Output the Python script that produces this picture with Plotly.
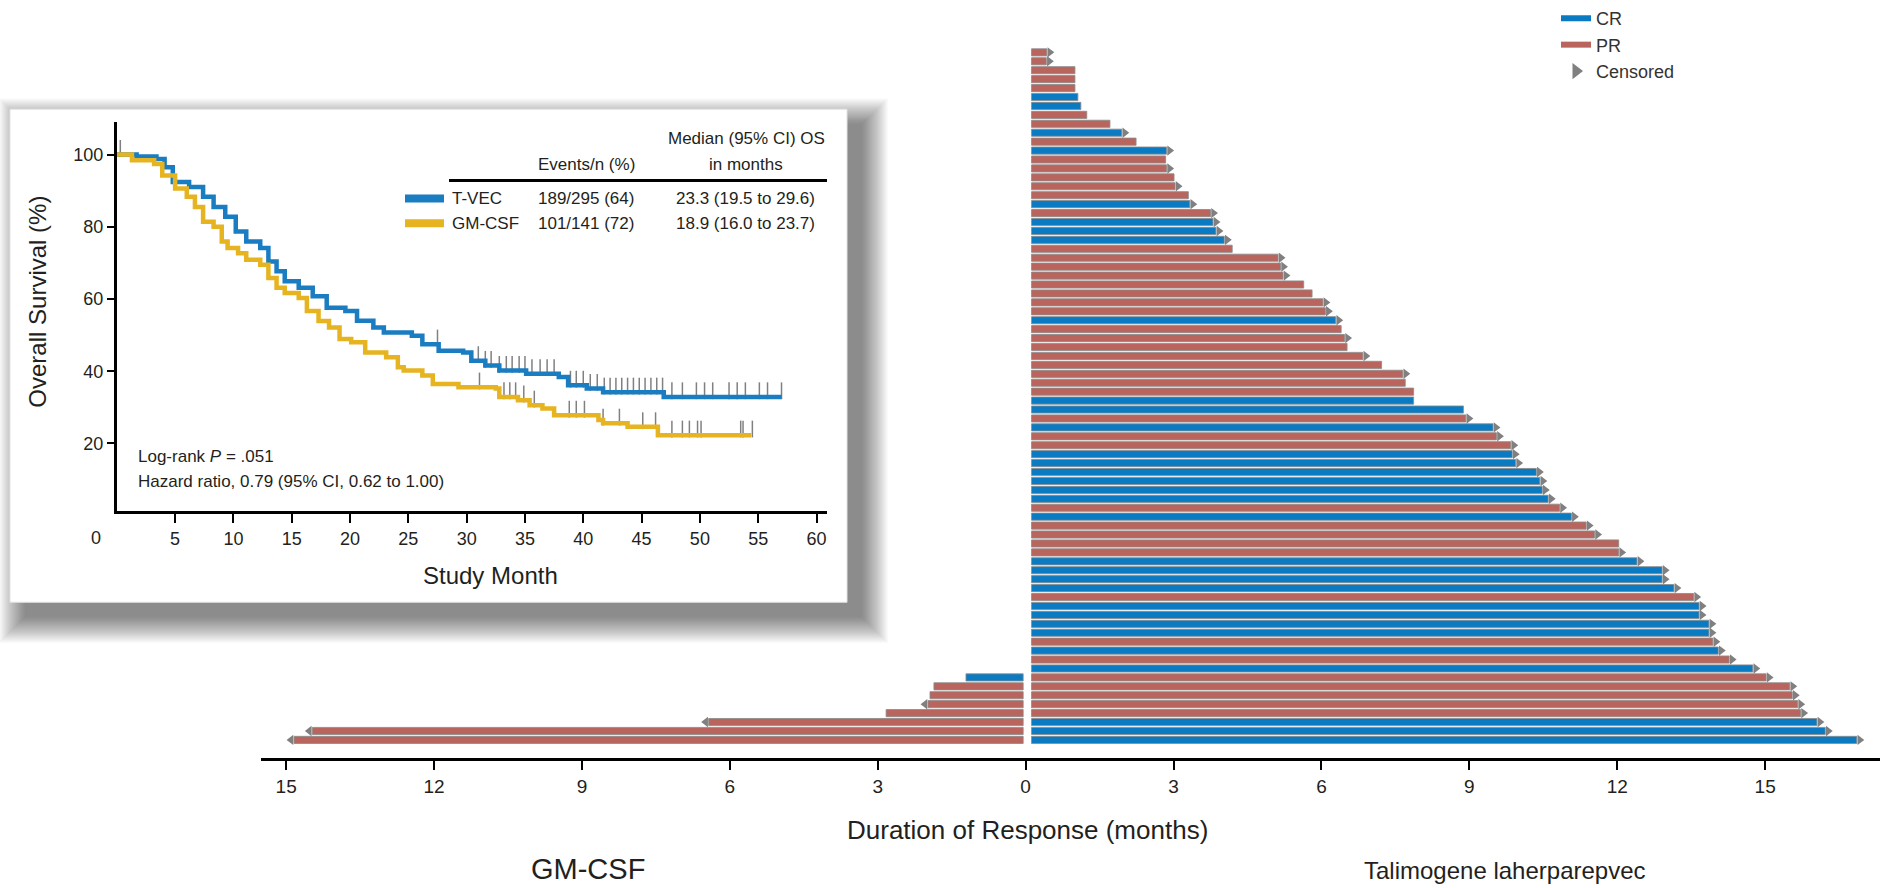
import numpy as np
import plotly.graph_objects as go

W, H = 1880, 888

# ---------------- Duration of response (months), rows top -> bottom ----------------
tvec_rows = list(range(1, 79))
tvec_response = ["PR", "PR", "PR", "PR", "PR", "CR", "CR", "PR", "PR", "CR",
                 "PR", "CR", "PR", "PR", "PR", "PR", "PR", "CR", "PR", "CR",
                 "CR", "CR", "PR", "PR", "PR", "PR", "PR", "PR", "PR", "PR",
                 "CR", "PR", "PR", "PR", "PR", "PR", "PR", "PR", "PR", "CR",
                 "CR", "PR", "CR", "PR", "PR", "CR", "CR", "CR", "CR", "CR",
                 "CR", "PR", "CR", "PR", "PR", "PR", "PR", "CR", "CR", "CR",
                 "CR", "PR", "CR", "CR", "CR", "CR", "PR", "CR", "PR", "CR",
                 "PR", "PR", "PR", "PR", "PR", "CR", "CR", "CR"]
tvec_duration = [0.43, 0.42, 1.00, 1.00, 1.00, 1.06, 1.12, 1.24, 1.71, 1.95,
                 2.24, 2.86, 2.84, 2.86, 3.01, 3.03, 3.30, 3.33, 3.75, 3.80,
                 3.86, 4.03, 4.19, 5.12, 5.17, 5.22, 5.64, 5.81, 6.03, 6.08,
                 6.29, 6.40, 6.47, 6.52, 6.84, 7.22, 7.65, 7.70, 7.87, 7.87,
                 8.88, 8.93, 9.48, 9.55, 9.84, 9.87, 9.94, 10.36, 10.43, 10.48,
                 10.60, 10.83, 11.07, 11.37, 11.54, 12.03, 12.03, 12.40, 12.91, 12.91,
                 13.15, 13.55, 13.66, 13.66, 13.86, 13.86, 13.94, 14.05, 14.27, 14.75,
                 15.02, 15.50, 15.55, 15.66, 15.72, 16.05, 16.22, 16.86]
tvec_censored = [1, 1, 0, 0, 0, 0, 0, 0, 0, 1,
                 0, 1, 0, 1, 0, 1, 0, 1, 1, 1,
                 1, 1, 0, 1, 1, 1, 0, 0, 1, 1,
                 1, 0, 1, 0, 1, 0, 1, 0, 0, 0,
                 0, 1, 1, 1, 1, 1, 1, 1, 1, 1,
                 1, 1, 1, 1, 1, 0, 1, 1, 1, 1,
                 1, 1, 1, 1, 1, 1, 1, 1, 1, 1,
                 1, 1, 1, 1, 1, 1, 1, 1]

gm_rows = [71, 72, 73, 74, 75, 76, 77, 78]
gm_response = ["CR", "PR", "PR", "PR", "PR", "PR", "PR", "PR"]
gm_duration = [1.21, 1.86, 1.94, 1.98, 2.83, 6.43, 14.47, 14.84]
gm_censored = [0, 0, 0, 1, 0, 1, 1, 1]

dor_tickvals = [-15, -12, -9, -6, -3, 0, 3, 6, 9, 12, 15]
dor_ticktext = ["15", "12", "9", "6", "3", "0", "3", "6", "9", "12", "15"]

# ---------------- Overall survival (inset) ----------------
tvec_km_t = [0, 1.7, 3.4, 4.1, 4.8, 6.2, 7.4, 8.3, 9.3, 10.2, 11.1, 12.3, 13.0, 13.7, 14.4,
             15.6, 16.8, 18.0, 19.6, 20.6, 22.0, 22.9, 25.3, 26.2, 27.6, 29.7, 30.4, 31.6,
             32.8, 35.1, 37.9, 38.7, 40.3, 41.7, 46.9, 57.0]
tvec_km_s = [100, 99.5, 98.8, 96.5, 92.4, 91.0, 88.3, 85.5, 82.8, 78.7, 75.9, 74.1, 70.4, 67.7, 64.9,
             63.1, 60.8, 57.6, 56.7, 54.0, 52.1, 50.7, 49.8, 47.5, 45.7, 45.2, 42.9, 41.6,
             40.2, 39.3, 38.4, 36.1, 35.2, 34.2, 32.9, 32.9]
gm_km_t = [0, 1.3, 3.2, 3.9, 5.0, 6.0, 6.7, 7.4, 8.3, 9.0, 9.5, 10.4, 11.1, 12.3, 13.0, 13.7,
           14.4, 15.6, 16.3, 17.3, 18.2, 19.1, 20.1, 21.3, 23.1, 24.1, 24.6, 26.2, 27.1, 29.3,
           32.5, 32.8, 34.4, 35.4, 36.5, 37.5, 41.3, 41.7, 43.8, 46.4, 54.4]
gm_km_s = [100, 98.4, 97.4, 94.2, 90.6, 88.3, 85.5, 81.4, 80.0, 75.9, 74.1, 72.7, 70.9, 69.5, 65.8, 63.1,
           61.7, 60.3, 56.7, 53.9, 52.1, 48.9, 48.0, 45.2, 43.9, 41.1, 40.2, 38.8, 36.5, 35.6,
           35.2, 32.9, 32.0, 30.6, 29.7, 27.8, 26.5, 25.6, 24.6, 22.3, 22.3]
tvec_cens_t = [0.3, 27.5, 31.0, 31.6, 32.1, 32.8, 33.4, 33.9, 34.5, 35.0, 35.6, 36.3, 36.9, 37.5,
               38.9, 39.4, 40.0, 40.6, 41.2, 41.8, 42.3, 42.8, 43.3, 43.8, 44.3, 44.8, 45.3,
               45.8, 46.3, 46.8, 47.6, 48.5, 49.7, 50.4, 51.1, 52.5, 53.2, 53.9, 55.1, 55.8, 57.0]
gm_cens_t = [31.1, 33.2, 33.7, 34.2, 34.9, 35.8, 38.8, 39.4, 40.1, 41.7, 43.1, 45.1, 46.2,
             47.6, 48.5, 49.1, 49.8, 50.1, 53.5, 53.7, 54.5]
os_xticks = [5, 10, 15, 20, 25, 30, 35, 40, 45, 50, 55, 60]
os_yticks = [20, 40, 60, 80, 100]
os_table = [["T-VEC", "189/295 (64)", "23.3 (19.5 to 29.6)"],
            ["GM-CSF", "101/141 (72)", "18.9 (16.0 to 23.7)"]]

# ---------------- styles ----------------
BLUE = "#0a7bc2"
RED = "#b9655d"
GRAY = "#808080"
KM_BLUE = "#1a7cc1"
KM_GOLD = "#e6b420"
TXT = "#231f20"
FONT = "Liberation Sans, Arial, sans-serif"
RIGHT_BASE = 0.12
LEFT_BASE = 0.05
ARROW_OFF = 0.06
COLORS = {"CR": BLUE, "PR": RED}


def px(x):
    return x / W


def py(y):
    return 1 - y / H


fig = go.Figure()

# right (T-VEC) bars
fig.add_trace(go.Bar(
    x=[d - RIGHT_BASE for d in tvec_duration], y=tvec_rows, base=RIGHT_BASE,
    orientation="h", width=0.8,
    marker=dict(color=[COLORS[r] for r in tvec_response], line=dict(color="rgba(140,140,140,0.85)", width=1)),
    showlegend=False, hoverinfo="skip"))
# left (GM-CSF) bars
fig.add_trace(go.Bar(
    x=[-(d - LEFT_BASE) for d in gm_duration], y=gm_rows, base=-LEFT_BASE,
    orientation="h", width=0.8,
    marker=dict(color=[COLORS[r] for r in gm_response], line=dict(color="rgba(140,140,140,0.85)", width=1)),
    showlegend=False, hoverinfo="skip"))
# censored arrows
fig.add_trace(go.Scatter(
    x=[d + ARROW_OFF for d, c in zip(tvec_duration, tvec_censored) if c],
    y=[r for r, c in zip(tvec_rows, tvec_censored) if c],
    mode="markers", marker=dict(symbol="triangle-right", size=9, color=GRAY),
    showlegend=False, hoverinfo="skip"))
fig.add_trace(go.Scatter(
    x=[-(d + ARROW_OFF) for d, c in zip(gm_duration, gm_censored) if c],
    y=[r for r, c in zip(gm_rows, gm_censored) if c],
    mode="markers", marker=dict(symbol="triangle-left", size=9, color=GRAY),
    showlegend=False, hoverinfo="skip"))

# legend entries
fig.add_trace(go.Scatter(x=[None], y=[None], mode="lines", line=dict(color=BLUE, width=6), name="CR"))
fig.add_trace(go.Scatter(x=[None], y=[None], mode="lines", line=dict(color=RED, width=6), name="PR"))
fig.add_trace(go.Scatter(x=[None], y=[None], mode="markers",
                         marker=dict(symbol="triangle-right", size=14, color=GRAY), name="Censored"))


# ---------------- inset KM ----------------
def step_value(times, surv, t):
    idx = np.searchsorted(np.array(times), t, side="right") - 1
    return np.array(surv)[idx]


fig.add_trace(go.Scatter(x=tvec_cens_t, y=step_value(tvec_km_t, tvec_km_s, tvec_cens_t) + 1.7,
                         mode="markers", marker=dict(symbol="line-ns-open", size=12, color=GRAY,
                                                     line=dict(color=GRAY, width=1.5)),
                         xaxis="x2", yaxis="y2", showlegend=False, hoverinfo="skip"))
fig.add_trace(go.Scatter(x=gm_cens_t, y=step_value(gm_km_t, gm_km_s, gm_cens_t) + 1.7,
                         mode="markers", marker=dict(symbol="line-ns-open", size=12, color=GRAY,
                                                     line=dict(color=GRAY, width=1.5)),
                         xaxis="x2", yaxis="y2", showlegend=False, hoverinfo="skip"))
fig.add_trace(go.Scatter(x=tvec_km_t, y=tvec_km_s, mode="lines", line=dict(color=KM_BLUE, width=4.5, shape="hv"),
                         xaxis="x2", yaxis="y2", showlegend=False, hoverinfo="skip"))
fig.add_trace(go.Scatter(x=gm_km_t, y=gm_km_s, mode="lines", line=dict(color=KM_GOLD, width=4.5, shape="hv"),
                         xaxis="x2", yaxis="y2", showlegend=False, hoverinfo="skip"))

shapes = []
# inset shadow + panel
P0x, P0y, P1x, P1y = 10, 103, 847, 600
OFF = 15
for k in range(0, 27):
    shapes.append(dict(type="rect", xref="paper", yref="paper", layer="below",
                       x0=px(P0x + OFF - k), x1=px(P1x + OFF + k), y0=py(P1y + OFF + k), y1=py(P0y + OFF - k),
                       fillcolor="rgba(0,0,0,0.018)", line=dict(width=0)))
shapes.append(dict(type="rect", xref="paper", yref="paper", layer="below",
                   x0=px(P0x), x1=px(P1x), y0=py(P1y), y1=py(P0y),
                   fillcolor="white", line=dict(color="#e2e2e2", width=1)))
# table rule
shapes.append(dict(type="line", xref="paper", yref="paper", x0=px(449), x1=px(827), y0=py(175), y1=py(175),
                   line=dict(color="black", width=3)))
# inset legend swatches
for yy, col in [(193, KM_BLUE), (218, KM_GOLD)]:
    shapes.append(dict(type="line", xref="paper", yref="paper", x0=px(405), x1=px(444), y0=py(yy), y1=py(yy),
                       line=dict(color=col, width=8)))

ann = []


def text(x, y, s, size, xanchor="center", yanchor="middle", angle=0):
    ann.append(dict(x=px(x), y=py(y), xref="paper", yref="paper", text=s, showarrow=False,
                    xanchor=xanchor, yanchor=yanchor, textangle=angle,
                    font=dict(family=FONT, size=size, color=TXT)))


text(746, 133, "Median (95% CI) OS", 17)
text(746, 159, "in months", 17)
text(586, 159, "Events/n (%)", 17)
for i, yy in enumerate([193, 218]):
    text(450, yy, os_table[i][0], 17, xanchor="left")
    text(586, yy, os_table[i][1], 17)
    text(745, yy, os_table[i][2], 17)
text(136, 453, "Log-rank <i>P</i> = .051", 17, xanchor="left")
text(136, 478, "Hazard ratio, 0.79 (95% CI, 0.62 to 1.00)", 17, xanchor="left")
text(490, 573, "Study Month", 24)
text(38, 297, "Overall Survival (%)", 24, angle=-90)
text(96, 535, "0", 18)

# main titles
text(1027, 830, "Duration of Response (months)", 26)
text(588, 869, "GM-CSF", 29)
text(1505, 870, "Talimogene laherparepvec", 24)

fig.update_layout(
    width=W, height=H, autosize=False,
    margin=dict(l=0, r=0, t=0, b=0),
    paper_bgcolor="white", plot_bgcolor="rgba(0,0,0,0)",
    barmode="overlay",
    shapes=shapes, annotations=ann,
    xaxis=dict(domain=[px(261), 1], range=[-15.51, 17.33], anchor="y",
               tickvals=dor_tickvals, ticktext=dor_ticktext,
               showline=True, linecolor="black", linewidth=3,
               ticks="outside", ticklen=9, tickwidth=1.5, tickcolor="black",
               showgrid=False, zeroline=False,
               tickfont=dict(family=FONT, size=19, color=TXT)),
    yaxis=dict(domain=[py(757), 1], range=[80.03, -4.08], visible=False),
    xaxis2=dict(domain=[px(116.8), px(827)], range=[0, 60.9], anchor="y2",
                tickvals=os_xticks, showline=True, linecolor="black", linewidth=3,
                ticks="outside", ticklen=9, tickwidth=1.5, tickcolor="black",
                showgrid=False, zeroline=False,
                tickfont=dict(family=FONT, size=18, color=TXT)),
    yaxis2=dict(domain=[py(508), py(116)], range=[1.3, 109], anchor="x2",
                tickvals=os_yticks, showline=True, linecolor="black", linewidth=3,
                ticks="outside", ticklen=7, tickwidth=1.5, tickcolor="black",
                showgrid=False, zeroline=False,
                tickfont=dict(family=FONT, size=18, color=TXT)),
    legend=dict(x=px(1556), y=py(-7), xanchor="left", yanchor="top",
                bgcolor="rgba(0,0,0,0)", font=dict(family=FONT, size=18, color="#333"),
                itemwidth=30, tracegroupgap=0),
)

fig.write_html("out.html")
